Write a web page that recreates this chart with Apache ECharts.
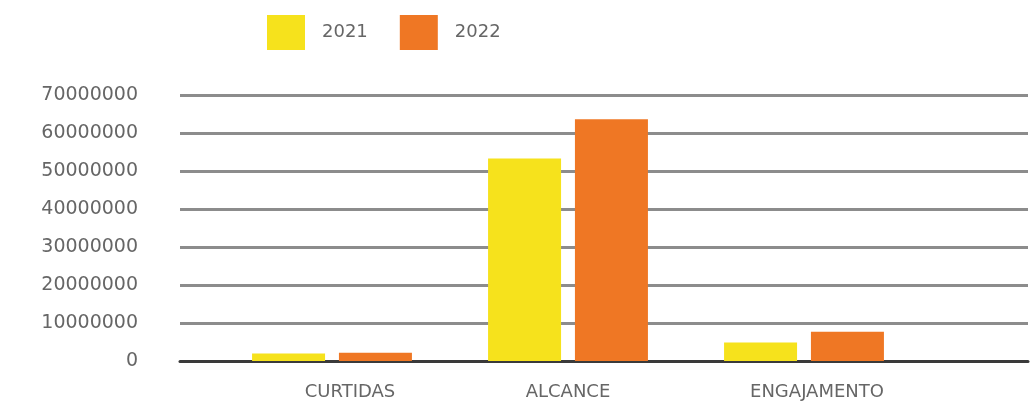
<!DOCTYPE html>
<html>
<head>
<meta charset="utf-8">
<script src="https://cdn.jsdelivr.net/npm/echarts@6/dist/echarts.min.js"></script>
<style>
html,body{margin:0;padding:0;background:#fff;}
#chart{width:1035px;height:406px;}
</style>
</head>
<body>
<div id="chart"></div>
<script>
const categories = ['CURTIDAS', 'ALCANCE', 'ENGAJAMENTO'];
const seriesNames = ['2021', '2022'];
const values2021 = [2000000, 53300000, 4900000];
const values2022 = [2200000, 63600000, 7700000];
const yMin = 0, yMax = 70000000, yStep = 10000000;

const chart = echarts.init(document.getElementById('chart'));
const font = 'DejaVu Sans';
const labelShift = { CURTIDAS: 36, ALCANCE: 0, ENGAJAMENTO: 26 };
const rich = {};
categories.forEach((c, i) => {
  rich['c' + i] = { color: '#666', fontFamily: font, fontSize: 18, padding: [0, 0, 0, labelShift[c] || 0] };
});
chart.setOption({
  backgroundColor: '#ffffff',
  animation: false,
  legend: {
    left: 262, top: 10,
    itemWidth: 38, itemHeight: 35, itemGap: 32,
    icon: 'rect',
    data: seriesNames,
    textStyle: { color: '#666', fontFamily: font, fontSize: 18, padding: [0, 0, 0, 12] }
  },
  grid: [
    { left: 180, right: 7, top: 95, bottom: 45 },
    { left: 214, right: 113, top: 95, bottom: 45 }
  ],
  xAxis: [
    { gridIndex: 0, type: 'category', data: [''],
      axisLine: { show: true, lineStyle: { color: '#3a3a3a', width: 3 } },
      axisTick: { show: false }, axisLabel: { show: false } },
    { gridIndex: 1, type: 'category', data: categories,
      axisLine: { show: false }, axisTick: { show: false },
      axisLabel: { interval: 0, hideOverlap: false, color: '#666', fontFamily: font, fontSize: 18, margin: 22,
        formatter: (v) => '{c' + categories.indexOf(v) + '|' + v + '}', rich: rich } }
  ],
  yAxis: [
    { gridIndex: 0, type: 'value', min: yMin, max: yMax, interval: yStep,
      axisLine: { show: false }, axisTick: { show: false },
      axisLabel: { color: '#666', fontFamily: font, fontSize: 19, margin: 42,
        formatter: v => String(v) },
      splitLine: { lineStyle: { color: '#8c8c8c', width: 3 } } },
    { gridIndex: 1, type: 'value', min: yMin, max: yMax, interval: yStep, show: false,
      splitLine: { show: false } }
  ],
  series: [
    { name: seriesNames[0], type: 'bar', xAxisIndex: 1, yAxisIndex: 1,
      data: values2021, barWidth: 73, barGap: '19%',
      itemStyle: { color: '#F6E21C' } },
    { name: seriesNames[1], type: 'bar', xAxisIndex: 1, yAxisIndex: 1,
      data: values2022, barWidth: 73, barGap: '19%',
      itemStyle: { color: '#EF7724' } }
  ]
});
</script>
</body>
</html>
